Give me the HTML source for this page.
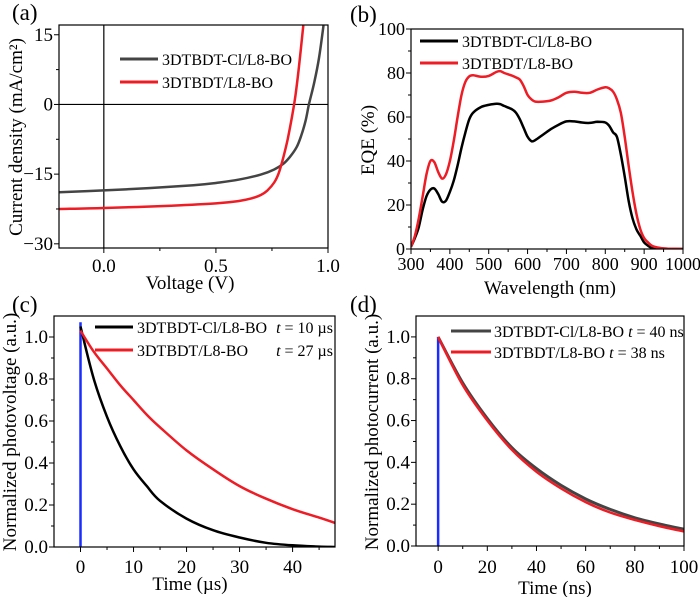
<!DOCTYPE html>
<html><head><meta charset="utf-8"><style>
body{margin:0;background:#fff}
svg{display:block;font-family:"Liberation Serif",serif}
</style></head><body>
<svg id="fig" width="700" height="597" viewBox="0 0 700 597"></svg>
<script>
// Panel (a) J-V data
const jvV_black=[-0.2,0,0.2,0.4,0.5,0.6,0.7,0.76,0.8,0.83,0.86,0.88,0.9,0.915,0.94,0.96,0.98];
const jvJ_black=[-18.9,-18.5,-18.0,-17.4,-16.9,-16.2,-15.1,-14.0,-12.8,-11.3,-9.2,-6.8,-3.5,0,5,10,17];
const jvV_red=[-0.2,0,0.3,0.5,0.6,0.66,0.7,0.73,0.76,0.78,0.8,0.82,0.84,0.855,0.87,0.89];
const jvJ_red=[-22.5,-22.3,-21.8,-21.3,-20.8,-20.2,-19.5,-18.5,-16.8,-14.8,-11.5,-7.5,-2.5,2,8,17];
// Panel (b) EQE data
const eqeWl=[300,310,320,330,340,350,360,370,380,390,400,410,420,430,440,450,460,480,500,520,530,540,560,570,580,590,600,610,620,640,660,680,700,720,740,760,780,800,810,820,830,840,850,860,870,880,890,900,910,920,940,960,1000];
const eqeBlack=[1,5,10,18,24,27,27.5,25,21.5,22,26,31,38,46,53,59,62,64.5,65.5,66,65.8,65,63.5,62,59,55,51,49,49.5,52,54.5,56.5,58,58,57.5,57.3,57.8,57.5,56,53,51,43,33,22,14,9,6,3,1.5,0.5,0,0,0];
const eqeRed=[1,6,14,24,34,40,39.5,35,32,34,40,49,60,70,76,78.5,79,78.3,78.7,80.5,80.8,80,78.8,78,77,74,70,68,67,67,67.5,69,71,71.5,71,71,72.5,73.5,73,71.5,68,62,51,38,26,16,9,5,3,1.5,0.5,0.2,0];
// Panel (c) TPV data
const tpvT=[0,2.5,5,7.5,10,12.5,15,20,25,30,35,40,45,48];
const tpvBlack=[1.05,0.8,0.62,0.48,0.37,0.29,0.22,0.135,0.08,0.045,0.02,0.008,0.002,0];
const tpvRed=[1.03,0.93,0.85,0.77,0.70,0.63,0.57,0.46,0.37,0.29,0.23,0.18,0.14,0.115];
// Panel (d) TPC data
const tpcT=[0,10,20,30,40,50,60,70,80,90,100];
const tpcBlack=[1.0,0.78,0.61,0.47,0.37,0.29,0.225,0.175,0.135,0.105,0.08];
const tpcRed=[1.0,0.77,0.60,0.46,0.355,0.275,0.21,0.16,0.125,0.095,0.07];
// tick labels
const aXTicks=[0,0.5,1.0], aXLabels=["0.0","0.5","1.0"], aYTicks=[15,0,-15,-30], aYLabels=["15","0","\u221215","\u221230"];
const bXTicks=[300,400,500,600,700,800,900,1000], bYTicks=[0,20,40,60,80,100];
const cXTicks=[0,10,20,30,40], cYTicks=[0,0.2,0.4,0.6,0.8,1.0];
const dXTicks=[0,20,40,60,80,100], dYTicks=[0,0.2,0.4,0.6,0.8,1.0];

const NS="http://www.w3.org/2000/svg", svg=document.getElementById('fig');
function mk(tag,attrs,parent){const e=document.createElementNS(NS,tag);for(const k in attrs)e.setAttribute(k,attrs[k]);(parent||svg).appendChild(e);return e;}
function txt(s,x,y,size,anchor,parent,name,rot){const t=mk('text',{x:x,y:y,'font-size':size,'text-anchor':anchor||'middle',fill:'#000'},parent);t.textContent=s;if(rot)t.setAttribute('transform','rotate(-90 '+x+' '+y+')');


return t;}
function panel(p){
  const g=mk('g',{});
  
  
  const sx=v=>p.x0+(v-p.xmin)/(p.xmax-p.xmin)*(p.x1-p.x0);
  const sy=v=>p.y1-(v-p.ymin)/(p.ymax-p.ymin)*(p.y1-p.y0);
  p.sx=sx;p.sy=sy;p.g=g;
  p.xt.forEach((v,i)=>{const t=mk('line',{x1:sx(v),x2:sx(v),y1:p.y1,y2:p.y1+5,stroke:'#000','stroke-width':1},g);
    
    
    txt(p.xl?p.xl[i]:String(v),sx(v),p.xlY,p.fs,'middle',g,'x-tick-label');});
  if(p.xminor)p.xminor.forEach(v=>{mk('line',{x1:sx(v),x2:sx(v),y1:p.y1,y2:p.y1+3,stroke:'#000','stroke-width':1},g);});
  p.yt.forEach((v,i)=>{mk('line',{x1:p.x0-5,x2:p.x0,y1:sy(v),y2:sy(v),stroke:'#000','stroke-width':1},g);
    txt(p.yl?p.yl[i]:String(v),p.x0-6,sy(v)+6,p.fs,'end',g,'y-tick-label');});
  if(p.yminor)p.yminor.forEach(v=>{mk('line',{x1:p.x0-3,x2:p.x0,y1:sy(v),y2:sy(v),stroke:'#000','stroke-width':1},g);});
  txt(p.xtitle,p.xtX,p.xtY,19,'middle',g,'x-axis-title');
  txt(p.ytitle,p.ytX,p.ytY,19,'middle',g,'y-axis-title',true);
  txt(p.label,p.lx,p.ly,23,'start',g,'panel-label-'+p.id);
  return p;
}
function series(p,xs,ys,color,w,name){
  const P=xs.map((x,i)=>[p.sx(x),p.sy(ys[i])]);
  let d='M'+P[0][0].toFixed(1)+' '+P[0][1].toFixed(1);
  for(let i=0;i<P.length-1;i++){
    const p0=P[i-1]||P[i],p1=P[i],p2=P[i+1],p3=P[i+2]||P[i+1];
    const c1=[p1[0]+(p2[0]-p0[0])/6,p1[1]+(p2[1]-p0[1])/6],c2=[p2[0]-(p3[0]-p1[0])/6,p2[1]-(p3[1]-p1[1])/6];
    d+=' C'+c1.map(v=>v.toFixed(1)).join(' ')+' '+c2.map(v=>v.toFixed(1)).join(' ')+' '+p2[0].toFixed(1)+' '+p2[1].toFixed(1);
  }
  if(!document.getElementById('clip'+p.id)){const cp=mk('clipPath',{id:'clip'+p.id},p.g);mk('rect',{x:p.x0,y:p.y0,width:p.x1-p.x0,height:p.y1-p.y0},cp);}
  const e=mk('path',{d:d,fill:'none',stroke:color,'stroke-width':w,'stroke-linejoin':'round','clip-path':'url(#clip'+p.id+')'},p.g);
  
  
}
function frame(p){mk('rect',{x:p.x0,y:p.y0,width:p.x1-p.x0,height:p.y1-p.y0,fill:'none',stroke:'#000','stroke-width':1.2},p.g);}
function legend(p,items,x,y,dy,size){items.forEach((it,i)=>{
  const l=mk('line',{x1:x,x2:x+38,y1:y+i*dy,y2:y+i*dy,stroke:it.c,'stroke-width':3},p.g);
  
  
  txt(it.t,x+42,y+i*dy+6,size,'start',p.g,'legend-entry');
  if(it.r){const t=txt('',p.x1-2,y+i*dy+6,size,'end',p.g,'legend-lifetime');t.innerHTML='<tspan font-style="italic">t</tspan> '+it.r;}
});}
function range(a,b,s){const r=[];for(let v=a;v<=b+1e-9;v+=s)r.push(+v.toFixed(3));return r;}

// (a)
const A=panel({id:'a',x0:59,x1:328,y0:25,y1:248,xmin:-0.2,xmax:1.0,ymin:-30.9,ymax:17.1,xt:aXTicks,xl:aXLabels,yt:aYTicks,yl:aYLabels,
 xminor:[0.25,0.75],yminor:[7.5,-7.5,-22.5],fs:19,xlY:272,xtitle:'Voltage (V)',xtX:190,xtY:289,ytitle:'Current density (mA/cm²)',ytX:22,ytY:137,label:'(a)',lx:12,ly:20});
mk('line',{x1:A.sx(0),x2:A.sx(0),y1:A.y0,y2:A.y1,stroke:'#000','stroke-width':1.2},A.g);
mk('line',{x1:A.x0,x2:A.x1,y1:A.sy(0),y2:A.sy(0),stroke:'#000','stroke-width':1.2},A.g);
series(A,jvV_black,jvJ_black,'#444',2.5,'jv-curve-cl');
series(A,jvV_red,jvJ_red,'#ee1c25',2.5,'jv-curve');
frame(A);legend(A,[{t:'3DTBDT-Cl/L8-BO',c:'#444'},{t:'3DTBDT/L8-BO',c:'#ee1c25'}],120,59,23,16);

// (b)
const B=panel({id:'b',x0:411,x1:683,y0:29,y1:249,xmin:300,xmax:1000,ymin:0,ymax:100,xt:bXTicks,yt:bYTicks,
 xminor:range(350,950,100),yminor:range(10,90,20),fs:18,xlY:270,xtitle:'Wavelength (nm)',xtX:550,xtY:294,ytitle:'EQE (%)',ytX:374,ytY:140,label:'(b)',lx:350,ly:22});
series(B,eqeWl,eqeBlack,'#000',2.5,'eqe-curve-cl');
series(B,eqeWl,eqeRed,'#ee1c25',2.5,'eqe-curve');
frame(B);legend(B,[{t:'3DTBDT-Cl/L8-BO',c:'#000'},{t:'3DTBDT/L8-BO',c:'#ee1c25'}],420,41,22,16);

// (c)
const C=panel({id:'c',x0:54,x1:335,y0:316,y1:547,xmin:-5,xmax:48,ymin:0,ymax:1.1,xt:cXTicks,yt:cYTicks,yl:["0.0","0.2","0.4","0.6","0.8","1.0"],
 xminor:[5,15,25,35,45],yminor:[0.1,0.3,0.5,0.7,0.9],fs:19,xlY:573,xtitle:'Time (µs)',xtX:190,xtY:590,ytitle:'Normalized photovoltage (a.u.)',ytX:16,ytY:432,label:'(c)',lx:12,ly:312});
mk('line',{x1:C.sx(0),x2:C.sx(0),y1:C.sy(0),y2:C.sy(1.07),stroke:'#1a2cff','stroke-width':2.5},C.g);
series(C,tpvT,tpvBlack,'#000',2.5,'tpv-curve-cl');
series(C,tpvT,tpvRed,'#ee1c25',2.5,'tpv-curve');
frame(C);legend(C,[{t:'3DTBDT-Cl/L8-BO',c:'#000',r:'= 10 µs'},{t:'3DTBDT/L8-BO',c:'#ee1c25',r:'= 27 µs'}],95,327,23,16);

// (d)
const D=panel({id:'d',x0:416,x1:684,y0:316,y1:546,xmin:-9,xmax:100,ymin:0,ymax:1.1,xt:dXTicks,yt:dYTicks,yl:["0.0","0.2","0.4","0.6","0.8","1.0"],
 xminor:[10,30,50,70,90],yminor:[0.1,0.3,0.5,0.7,0.9],fs:19,xlY:573,xtitle:'Time (ns)',xtX:555,xtY:594,ytitle:'Normalized photocurrent (a.u.)',ytX:378,ytY:432,label:'(d)',lx:350,ly:312});
mk('line',{x1:D.sx(0),x2:D.sx(0),y1:D.sy(0),y2:D.sy(1.0),stroke:'#1a2cff','stroke-width':2.5},D.g);
series(D,tpcT,tpcBlack,'#444',3,'tpc-curve-cl');
series(D,tpcT,tpcRed,'#ee1c25',2.5,'tpc-curve');
frame(D);
[{t:'3DTBDT-Cl/L8-BO',c:'#444',r:'= 40 ns',y:331},{t:'3DTBDT/L8-BO',c:'#ee1c25',r:'= 38 ns',y:352}].forEach(it=>{
  const l=mk('line',{x1:451,x2:491,y1:it.y,y2:it.y,stroke:it.c,'stroke-width':3},D.g);
  
  
  const t=txt('',494,it.y+6,16,'start',D.g,'legend-entry');t.innerHTML=it.t+' <tspan font-style="italic">t</tspan> '+it.r;});
</script>
</body></html>
